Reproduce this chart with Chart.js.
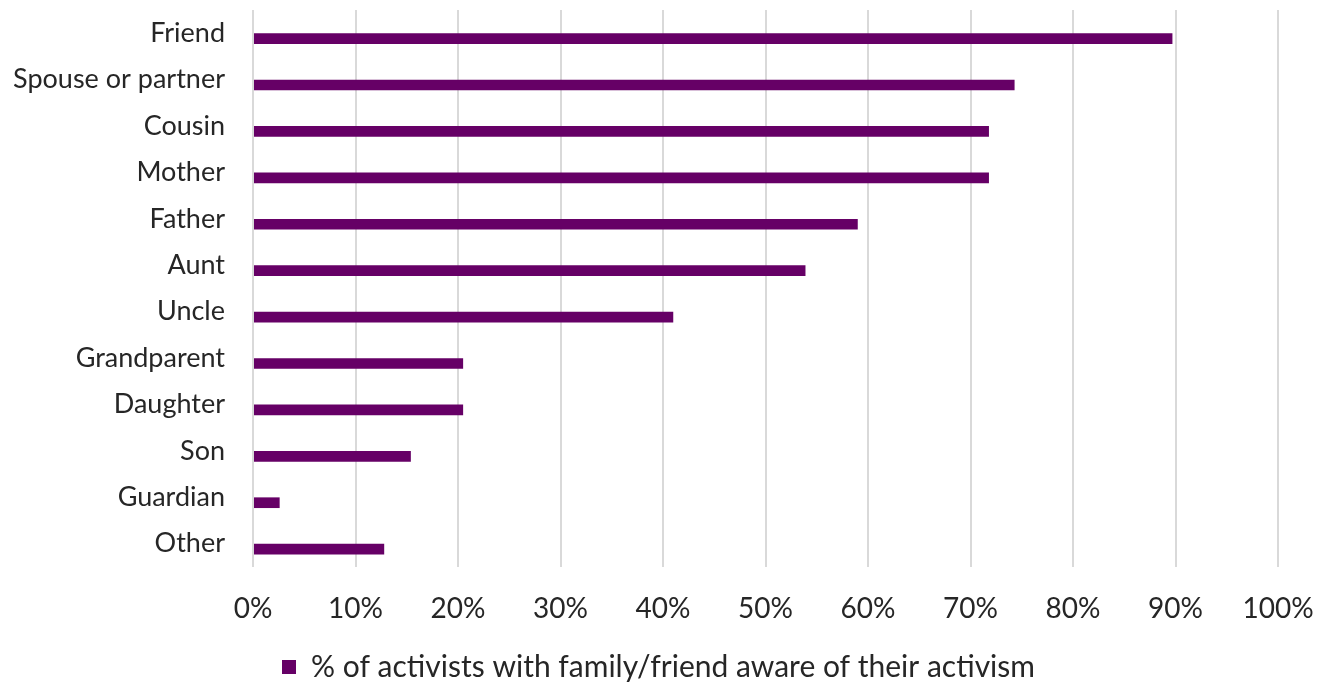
<!DOCTYPE html>
<html>
<head>
<meta charset="utf-8">
<script src="https://cdn.jsdelivr.net/npm/chart.js@4/dist/chart.umd.min.js"></script>
<style>
  html, body { margin: 0; padding: 0; background: #fff; }
  #wrap { width: 1317px; height: 685px; position: relative; }
</style>
</head>
<body>
<div id="wrap"><canvas id="c"></canvas></div>
<script>
const categories = ["Friend", "Spouse or partner", "Cousin", "Mother", "Father", "Aunt", "Uncle", "Grandparent", "Daughter", "Son", "Guardian", "Other"];
const awareValues = [89.7, 74.3, 71.8, 71.8, 59.0, 53.9, 41.0, 20.5, 20.5, 15.4, 2.6, 12.8];
const seriesLabel = "% of activists with family/friend aware of their activism";
const xTicks = [0, 10, 20, 30, 40, 50, 60, 70, 80, 90, 100];

const FONT = "Lato, 'Open Sans', sans-serif";
const TXT = "#262626";

new Chart(document.getElementById('c'), {
  type: 'bar',
  data: {
    labels: categories,
    datasets: [
      { label: '_spacer', data: categories.map(() => null), backgroundColor: 'transparent' },
      { label: seriesLabel, data: awareValues, backgroundColor: '#660066', borderWidth: 0 }
    ]
  },
  options: {
    indexAxis: 'y',
    responsive: true,
    maintainAspectRatio: false,
    animation: false,
    categoryPercentage: 0.46,
    barPercentage: 1.0,
    layout: { padding: { top: 10, right: 0, left: 0, bottom: -7 } },
    plugins: {
      tooltip: { enabled: false },
      legend: {
        position: 'bottom',
        labels: {
          filter: (item) => item.text !== '_spacer',
          boxWidth: 14, boxHeight: 14,
          color: TXT,
          font: { family: FONT, size: 30 },
          padding: 12
        }
      }
    },
    scales: {
      x: {
        min: 0, max: 100,
        afterBuildTicks: (s) => { s.ticks = xTicks.map(v => ({ value: v })); },
        ticks: {
          color: TXT,
          font: { family: FONT, size: 28 },
          padding: 25,
          callback: (v) => v + '%'
        },
        grid: { color: '#d9d9d9', lineWidth: 2, drawTicks: false },
        border: { display: false },
        afterFit: (s) => { s.height = 73; s.paddingLeft = 0; s.paddingRight = 39; }
      },
      y: {
        ticks: {
          color: TXT,
          font: { family: FONT, size: 27 },
          padding: 28,
          autoSkip: false
        },
        grid: { display: false, drawTicks: false },
        border: { display: false },
        afterFit: (s) => { s.width = 253; s.paddingTop = 0; s.paddingBottom = 0; }
      }
    }
  }
});
</script>
</body>
</html>
